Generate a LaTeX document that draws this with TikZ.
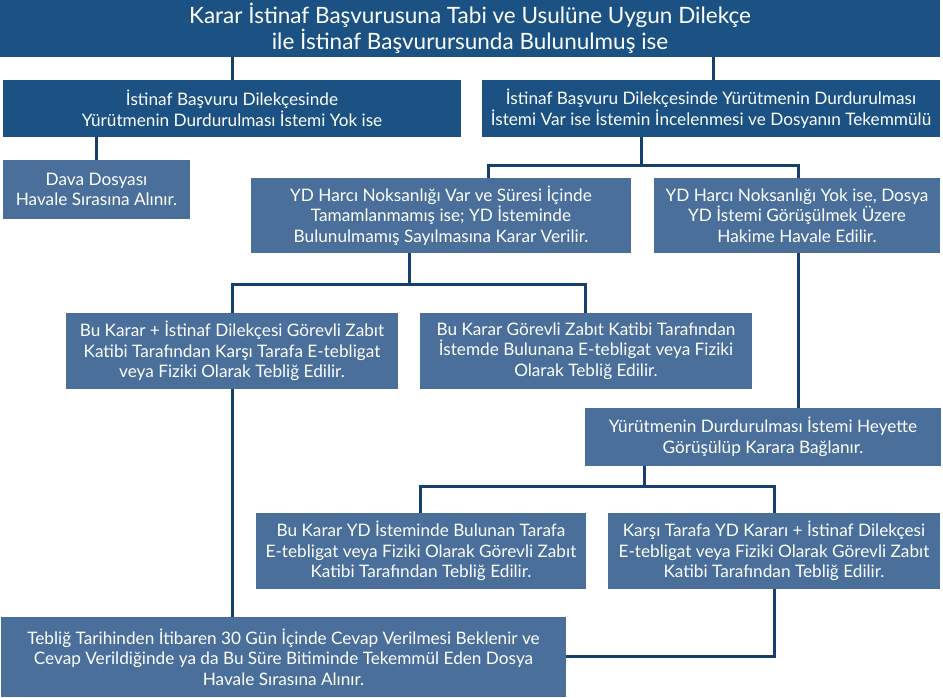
\documentclass[tikz,border=0pt]{standalone}
\usepackage{fontspec}
\setmainfont{Lato}
\definecolor{darkbox}{HTML}{1B5283}
\definecolor{lightbox}{HTML}{4A6F9B}
\definecolor{linecol}{HTML}{173F6B}
\begin{document}
\begin{tikzpicture}[x=1pt,y=-1pt,
  box/.style={rectangle,inner sep=0pt,text=white,align=center,font=\fontsize{17.2}{20.5}\selectfont},
  dbox/.style={box,fill=darkbox},
  lbox/.style={box,fill=lightbox},
  conn/.style={draw=linecol,line width=3pt}]
\useasboundingbox (0,0) rectangle (943,698);
\node[dbox,minimum width=940pt,minimum height=57pt,font=\fontsize{22.5}{26}\selectfont] (top) at (470,28.5) {Karar İstinaf Başvurusuna Tabi ve Usulüne Uygun Dilekçe\\ile İstinaf Başvurursunda Bulunulmuş ise};
\node[dbox,minimum width=458pt,minimum height=57pt] (l2a) at (232,108.5) {İstinaf Başvuru Dilekçesinde\\Yürütmenin Durdurulması İstemi Yok ise};
\node[dbox,minimum width=458pt,minimum height=57pt] (l2b) at (711,108.5) {İstinaf Başvuru Dilekçesinde Yürütmenin Durdurulması\\İstemi Var ise İstemin İncelenmesi ve Dosyanın Tekemmülü};
\node[lbox,minimum width=187pt,minimum height=59pt] (dava) at (96.5,189.5) {Dava Dosyası\\Havale Sırasına Alınır.};
\node[lbox,minimum width=380pt,minimum height=75pt] (ydv) at (441,215.5) {YD Harcı Noksanlığı Var ve Süresi İçinde\\Tamamlanmamış ise; YD İsteminde\\Bulunulmamış Sayılmasına Karar Verilir.};
\node[lbox,minimum width=286pt,minimum height=75pt] (ydy) at (797,215.5) {YD Harcı Noksanlığı Yok ise, Dosya\\YD İstemi Görüşülmek Üzere\\Hakime Havale Edilir.};
\node[lbox,minimum width=332pt,minimum height=76pt] (bki) at (232,351) {Bu Karar + İstinaf Dilekçesi Görevli Zabıt\\Katibi Tarafından Karşı Tarafa E-tebligat\\veya Fiziki Olarak Tebliğ Edilir.};
\node[lbox,minimum width=332pt,minimum height=76pt] (bkg) at (586,351) {Bu Karar Görevli Zabıt Katibi Tarafından\\İstemde Bulunana E-tebligat veya Fiziki\\Olarak Tebliğ Edilir.};
\node[lbox,minimum width=356pt,minimum height=58pt] (yur) at (763,437) {Yürütmenin Durdurulması İstemi Heyette\\Görüşülüp Karara Bağlanır.};
\node[lbox,minimum width=330pt,minimum height=76pt] (bky) at (421,551) {Bu Karar YD İsteminde Bulunan Tarafa\\E-tebligat veya Fiziki Olarak Görevli Zabıt\\Katibi Tarafından Tebliğ Edilir.};
\node[lbox,minimum width=332pt,minimum height=76pt] (kts) at (774,551) {Karşı Tarafa YD Kararı + İstinaf Dilekçesi\\E-tebligat veya Fiziki Olarak Görevli Zabıt\\Katibi Tarafından Tebliğ Edilir.};
\node[lbox,minimum width=565pt,minimum height=80pt] (teb) at (283.5,657) {Tebliğ Tarihinden İtibaren 30 Gün İçinde Cevap Verilmesi Beklenir ve\\Cevap Verildiğinde ya da Bu Süre Bitiminde Tekemmül Eden Dosya\\Havale Sırasına Alınır.};
% connectors
\draw[conn] (top.south -| l2a) -- (l2a.north);
\draw[conn] (top.south -| 713,0) -- (l2b.north -| 713,0);
\draw[conn] (l2a.south -| dava) -- (dava.north);
\coordinate (h1) at (641,166);
\draw[conn] (l2b.south -| h1) -- (h1);
\draw[conn] (ydv.north -| 488,0) |- (h1) -| (ydy.north -| 798,0);
\coordinate (h2) at (409,284);
\draw[conn] (ydv.south -| h2) -- (h2);
\draw[conn] (bki.north) |- (h2) -| (bkg.north -| 585,0);
\draw[conn] (ydy.south -| 798,0) -- (yur.north -| 798,0);
\coordinate (h3) at (644,486);
\draw[conn] (yur.south -| h3) -- (h3);
\draw[conn] (bky.north -| 420,0) |- (h3) -| (kts.north);
\draw[conn] (bki.south) -- (teb.north -| bki);
\draw[conn] (kts.south) |- (teb.east |- 0,656);
\end{tikzpicture}
\end{document}
